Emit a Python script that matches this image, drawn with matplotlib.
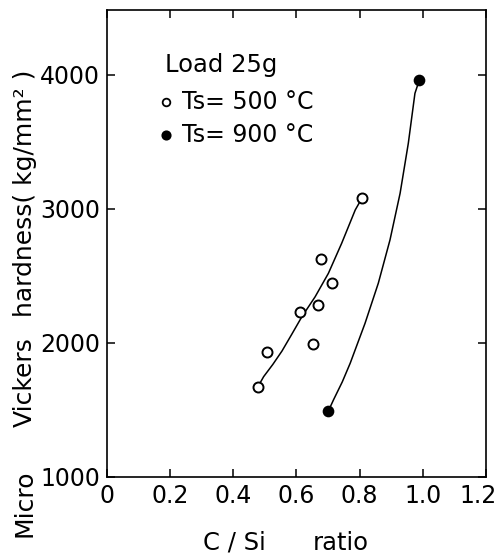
import matplotlib
matplotlib.use("Agg")
import matplotlib.pyplot as plt
from matplotlib.transforms import ScaledTranslation

# Data
x_500 = [0.478, 0.506, 0.612, 0.651, 0.667, 0.678, 0.712, 0.807]
y_500 = [1674, 1931, 2234, 1990, 2284, 2627, 2446, 3080]
x_900 = [0.701, 0.989]
y_900 = [1493, 3963]

# Hand-drawn fit curves
fit500_x = [0.478, 0.496, 0.525, 0.554, 0.585, 0.617, 0.659, 0.701, 0.743, 0.786, 0.807]
fit500_y = [1674, 1749, 1840, 1940, 2065, 2196, 2345, 2520, 2744, 2993, 3080]
fit900_x = [0.701, 0.717, 0.745, 0.770, 0.817, 0.859, 0.896, 0.928, 0.954, 0.975, 0.989]
fit900_y = [1493, 1575, 1710, 1849, 2147, 2446, 2769, 3117, 3490, 3863, 3963]

xticks = [0, 0.2, 0.4, 0.6, 0.8, 1.0, 1.2]
xticklabels = ["0", "0.2", "0.4", "0.6", "0.8", "1.0", "1.2"]
yticks = [1000, 2000, 3000, 4000]
yticklabels = ["1000", "2000", "3000", "4000"]

plt.rcParams['font.family'] = ['DejaVu Sans']

W, H = 502, 560
fig = plt.figure(figsize=(W/100, H/100), dpi=100)
ax = fig.add_axes([107/W, 1 - 477/H, 379/W, 467/H])

ax.plot(fit500_x, fit500_y, color='black', lw=1.1, solid_joinstyle='round')
ax.plot(fit900_x, fit900_y, color='black', lw=1.1, solid_joinstyle='round')
ax.plot(x_500, y_500, 'o', ms=7.2, mfc='white', mec='black', mew=1.4, ls='none')
ax.plot(x_900, y_900, 'o', ms=7.0, mfc='black', mec='black', mew=1.4, ls='none')

ax.set_xlim(0, 1.2)
ax.set_ylim(1000, 4485)
ax.set_xticks(xticks)
ax.set_xticklabels(xticklabels)
ax.set_yticks(yticks)
ax.set_yticklabels(yticklabels)
ax.tick_params(direction='in', top=True, right=True, length=6, width=1.1,
               labelsize=17, pad=5)
for s in ax.spines.values():
    s.set_linewidth(1.2)

# keep the last x tick label inside the canvas
last = ax.get_xticklabels()[-1]
last.set_transform(last.get_transform() + ScaledTranslation(-6/72, 0, fig.dpi_scale_trans))

# Legend block
ax.text(0.153, 0.882, "Load 25g", transform=ax.transAxes, fontsize=17.5,
        va='center', ha='left')
ax.plot([0.156], [0.803], 'o', transform=ax.transAxes, ms=5.5,
        mfc='white', mec='black', mew=1.3, clip_on=False)
ax.text(0.198, 0.803, "Ts= 500 °C", transform=ax.transAxes, fontsize=17,
        va='center', ha='left')
ax.plot([0.156], [0.732], 'o', transform=ax.transAxes, ms=6,
        mfc='black', mec='black', mew=1.3, clip_on=False)
ax.text(0.198, 0.732, "Ts= 900 °C", transform=ax.transAxes, fontsize=17,
        va='center', ha='left')

# x axis title
fig.text(203/W, 1 - 543/H, "C / Si", fontsize=17.5, ha='left', va='center')
fig.text(313/W, 1 - 543/H, "ratio", fontsize=17.5, ha='left', va='center')

# y axis title, pieces placed as in the reference
ylab_fs = 18
fig.text(25/W, 1 - 503/H, "Micro", fontsize=ylab_fs, rotation=90,
         ha='center', va='center')
fig.text(25/W, 1 - 427/H, "Vickers", fontsize=ylab_fs, rotation=90,
         ha='center', va='bottom')
fig.text(25/W, 1 - 317/H, "hardness( kg/mm² )", fontsize=ylab_fs, rotation=90,
         ha='center', va='bottom')

fig.savefig("out.png", dpi=100)
